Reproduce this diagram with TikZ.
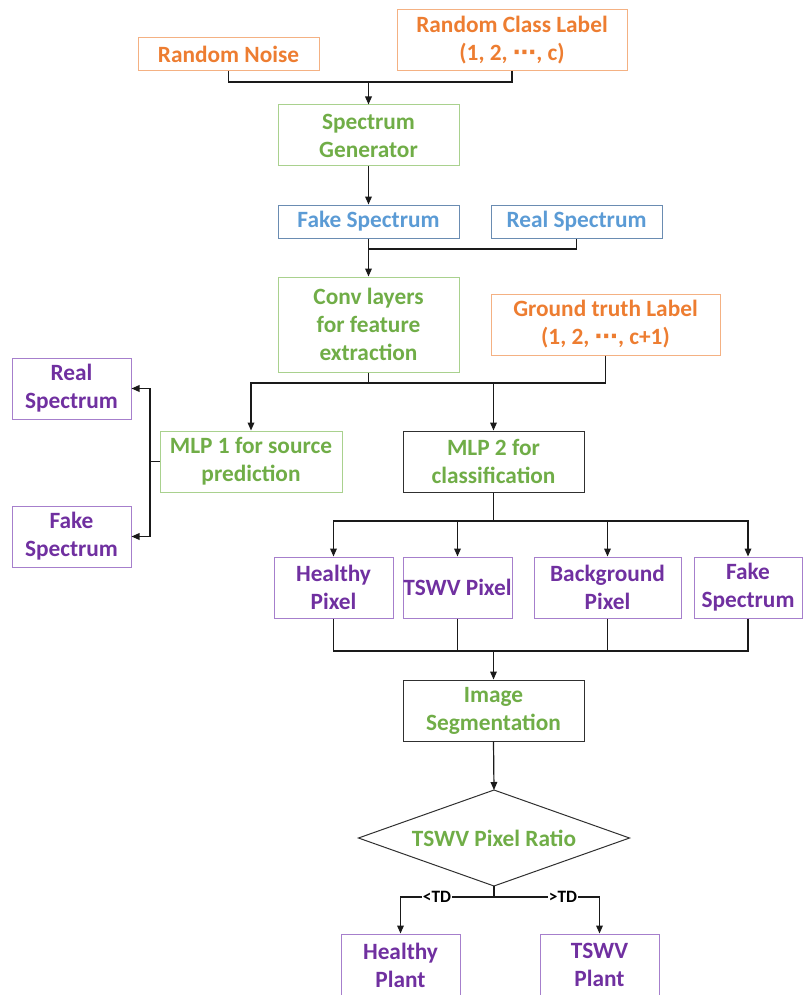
\documentclass[tikz,border=0pt]{standalone}
\usepackage{fontspec}
\setmainfont{Carlito}
\newfontfamily\dvfont{DejaVu Sans}
\usetikzlibrary{arrows.meta}
\definecolor{orT}{HTML}{ED7D31}
\definecolor{orB}{HTML}{F4B183}
\definecolor{grT}{HTML}{70AD47}
\definecolor{grB}{HTML}{A9D18E}
\definecolor{blT}{HTML}{5B9BD5}
\definecolor{blB}{HTML}{6A8CB2}
\definecolor{puT}{HTML}{7030A0}
\definecolor{puB}{HTML}{A67FCC}
\definecolor{bkB}{HTML}{303030}
\definecolor{lnC}{HTML}{1A1A1A}
\newcommand{\cdd}{{\dvfont\bfseries\char"22EF}}
\begin{document}
\begin{tikzpicture}[x=0.75pt,y=-0.75pt,
  font=\fontsize{17.5}{21}\selectfont\bfseries,
  bx/.style 2 args={draw, line width=0.75pt, align=center, inner sep=0pt,
    minimum width=#1*0.75pt, minimum height=#2*0.75pt},
  orbox/.style={draw=orB, text=orT},
  grbox/.style={draw=grB, text=grT},
  blbox/.style={draw=blB, text=blT},
  pubox/.style={draw=puB, text=puT},
  bkbox/.style={draw=bkB, text=grT},
  conn/.style={draw=lnC, line width=0.9pt},
  arr/.style={conn, -{Triangle[length=6pt,width=5pt]}},
  tdlab/.style={fill=white, text=black, inner sep=1pt, font=\fontsize{13}{15}\selectfont\bfseries}]
\useasboundingbox (0,0) rectangle (803,995);

% nodes
\node[bx={181}{33}, orbox] (rn) at (228.5,54.5) {Random Noise};
\node[bx={230}{61}, orbox] (rcl) at (512,40.5) {Random Class Label\\(1, 2, \cdd, c)};
\node[bx={181}{61}, grbox] (sg) at (368.5,135.5) {Spectrum\\Generator};
\node[bx={181}{33}, blbox] (fs) at (368.5,221.5) {Fake Spectrum};
\node[bx={171}{33}, blbox] (rs) at (576.5,221.5) {Real Spectrum};
\node[bx={181}{95}, grbox] (conv) at (368.5,324.5) {Conv layers\\for feature\\extraction};
\node[bx={229}{61}, orbox] (gt) at (605.5,324.5) {Ground truth Label\\(1, 2, \cdd, c+1)};
\node[bx={119}{61}, pubox] (rsl) at (71.5,388.5) {Real\\Spectrum};
\node[bx={119}{61}, pubox] (fsl) at (71.5,536.5) {Fake\\Spectrum};
\node[bx={182}{61}, grbox] (mlp1) at (251,461.5) {MLP 1 for source\\prediction};
\node[bx={181}{61}, bkbox] (mlp2) at (493.5,461.5) {MLP 2 for\\classification};
\node[bx={119}{61}, pubox] (hp) at (333.5,587.5) {Healthy\\Pixel};
\node[bx={109}{61}, pubox] (tp) at (457.5,587.5) {TSWV Pixel};
\node[bx={147}{61}, pubox] (bp) at (607.5,587.5) {Background\\Pixel};
\node[bx={108}{61}, pubox] (fsr) at (748,587.5) {Fake\\Spectrum};
\node[bx={181}{61}, bkbox] (seg) at (493.5,710.5) {Image\\Segmentation};
\node[text=grT] (dia) at (494,838) {TSWV Pixel Ratio};
\coordinate (dtop) at (494,790);
\coordinate (dbot) at (494,886);
\coordinate (dleft) at (358.5,838);
\coordinate (dright) at (629.5,838);
\draw[draw=bkB, line width=0.75pt] (dtop) -- (dright) -- (dbot) -- (dleft) -- cycle;
\node[bx={119}{62}, pubox] (hpl) at (400.5,965) {Healthy\\Plant};
\node[bx={119}{62}, pubox] (tpl) at (599.5,965) {TSWV\\Plant};

% junctions
\coordinate (j1) at (368.5,82);
\coordinate (j2) at (368.5,249);
\coordinate (j3) at (368.5,383);
\coordinate (j4) at (493.5,383);
\coordinate (j5) at (150,461.5);
\coordinate (j6) at (493.5,521);
\coordinate (j7) at (493.5,651);
\coordinate (j8) at (494,897);

% connectors
\draw[conn] (rn.south) |- (j1) -| (rcl.south);
\draw[arr] (j1) -- (sg.north);
\draw[arr] (sg.south) -- (fs.north);
\draw[conn] (fs.south) |- (j2) -| (rs.south);
\draw[arr] (j2) -- (conv.north);
\draw[conn] (conv.south) -- (j3) -- (j4);
\draw[conn] (gt.south) |- (j4);
\draw[arr] (j3) -| (mlp1.north);
\draw[arr] (j4) -- (mlp2.north);
\draw[conn] (mlp1.west) -- (j5);
\draw[arr] (j5) |- (rsl.east);
\draw[arr] (j5) |- (fsl.east);
\draw[conn] (mlp2.south) -- (j6);
\draw[arr] (j6) -| (hp.north);
\draw[arr] (j6) -| (tp.north);
\draw[arr] (j6) -| (bp.north);
\draw[arr] (j6) -| (fsr.north);
\draw[conn] (hp.south) |- (j7);
\draw[conn] (tp.south) |- (j7);
\draw[conn] (bp.south) |- (j7);
\draw[conn] (fsr.south) |- (j7);
\draw[arr] (j7) -- (seg.north);
\draw[arr] (seg.south) -- (dtop);
\draw[conn] (dbot) -- (j8);
\draw[arr] (j8) -| (hpl.north);
\draw[arr] (j8) -| (tpl.north);
\node[tdlab] (lt) at (437,897) {<TD};
\node[tdlab] (gtd) at (563,897) {>TD};
\end{tikzpicture}
\end{document}
